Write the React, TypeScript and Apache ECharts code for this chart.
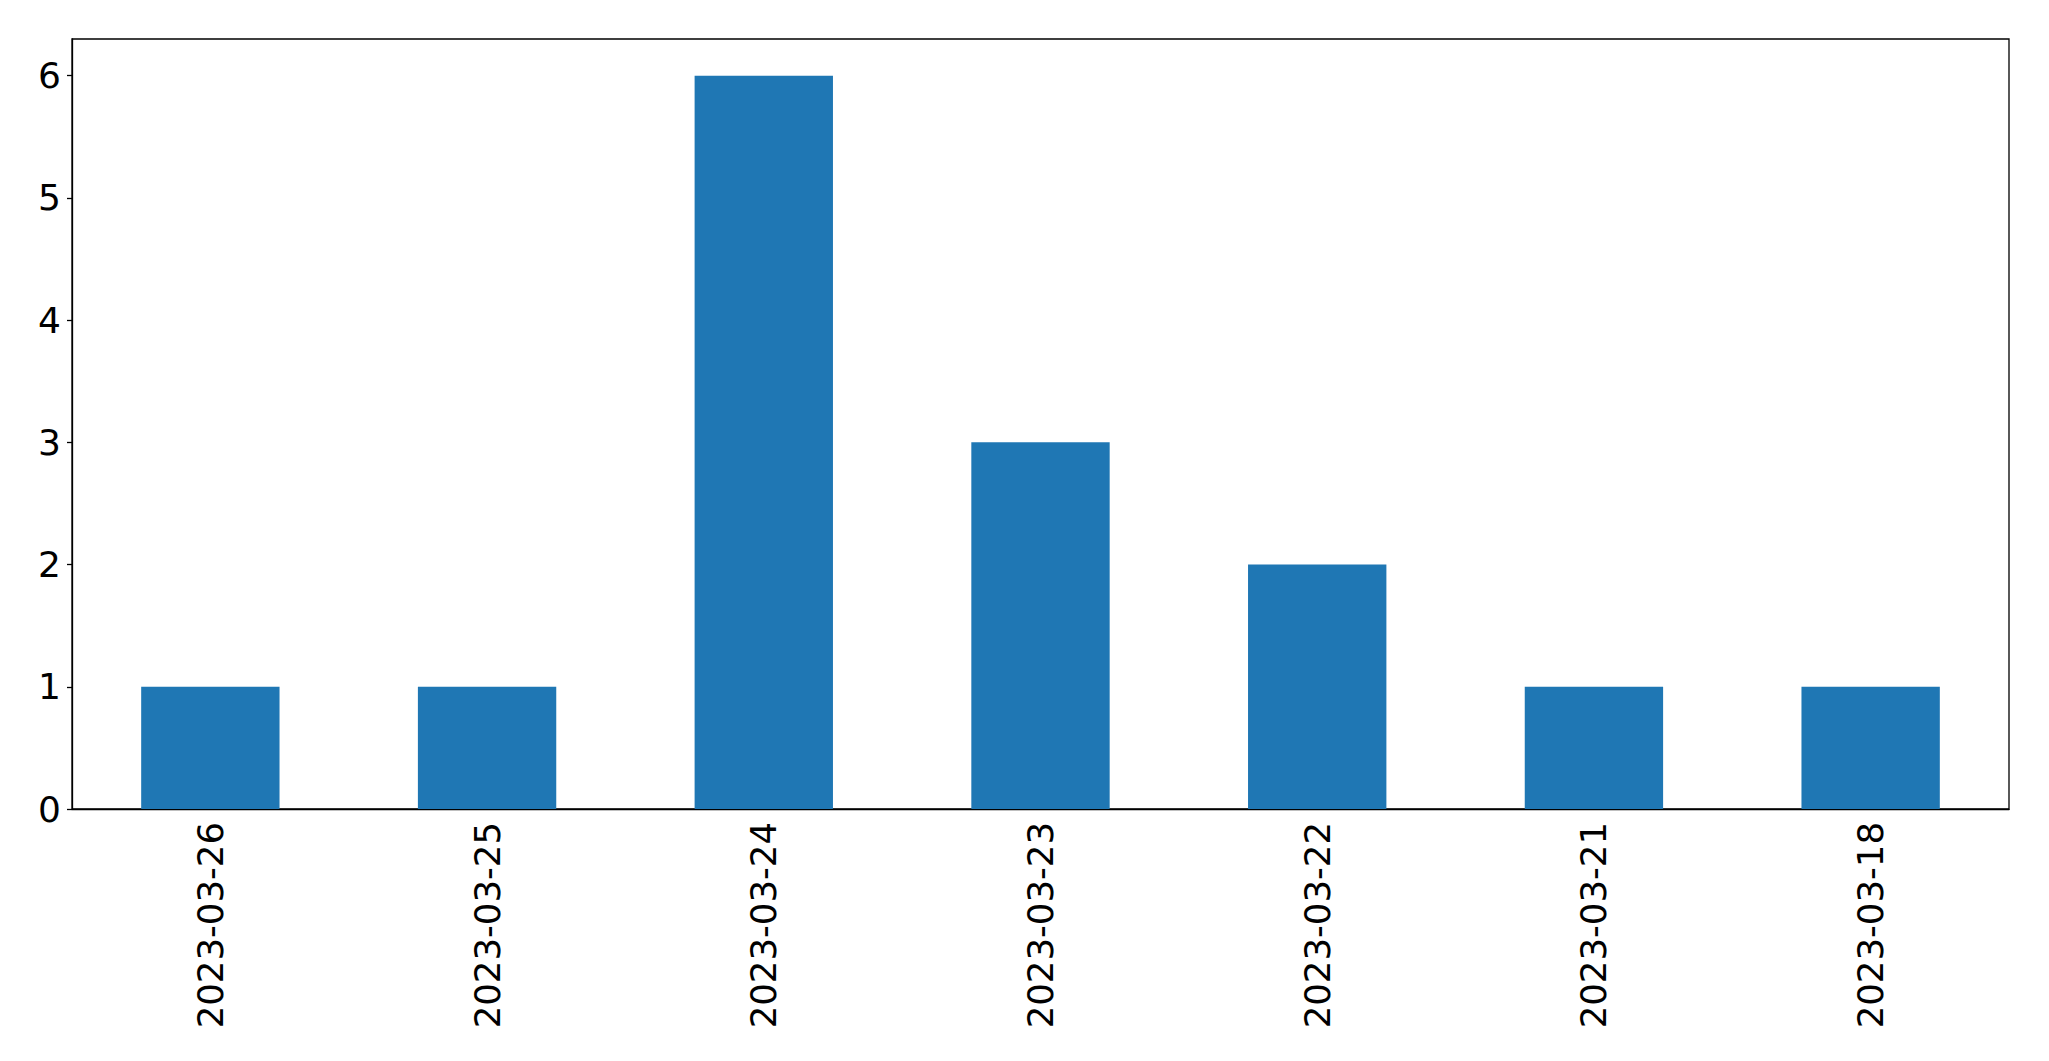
import React, { useEffect, useRef } from "react";
import * as echarts from "echarts";

const categories = ["2023-03-26", "2023-03-25", "2023-03-24", "2023-03-23", "2023-03-22", "2023-03-21", "2023-03-18"];
const counts = [1, 1, 6, 3, 2, 1, 1];
const yTicks = [0, 1, 2, 3, 4, 5, 6];

export default function App() {
  const ref = useRef<HTMLDivElement>(null);
  useEffect(() => {
    if (!ref.current) return;
    const chart = echarts.init(ref.current, null, { renderer: "svg" });
    chart.setOption({
      animation: false,
      backgroundColor: "#ffffff",
      textStyle: { fontFamily: "DejaVu Sans" },
      grid: {
        left: 72,
        right: 40,
        top: 39,
        bottom: 252,
        show: true,
        borderColor: "#000000",
        borderWidth: 1.3,
        backgroundColor: "transparent",
      },
      xAxis: {
        type: "category",
        data: categories,
        axisLine: { lineStyle: { color: "#000000", width: 1.3 } },
        axisTick: { alignWithLabel: true, length: 5, lineStyle: { color: "#000000", width: 1.3 } },
        axisLabel: {
          rotate: 90,
          fontSize: 35.5,
          color: "#000000",
          margin: 13,
          fontFamily: "DejaVu Sans",
          interval: 0,
        },
        splitLine: { show: false },
      },
      yAxis: {
        type: "value",
        min: 0,
        max: 6.3,
        interval: 1,
        axisLine: { show: true, lineStyle: { color: "#000000", width: 1.3 } },
        axisTick: { show: true, length: 5, customValues: yTicks, lineStyle: { color: "#000000", width: 1.3 } },
        axisLabel: {
          fontSize: 36,
          color: "#000000",
          margin: 11,
          fontFamily: "DejaVu Sans",
          customValues: yTicks,
        },
        splitLine: { show: false },
      },
      series: [
        {
          type: "bar",
          data: counts,
          barWidth: "50%",
          itemStyle: { color: "#1f77b4" },
        },
      ],
    });
    return () => chart.dispose();
  }, []);
  return (
    <div
      ref={ref}
      style={{ position: "fixed", left: 0, top: 0, width: 2049, height: 1061, background: "#ffffff" }}
    />
  );
}
